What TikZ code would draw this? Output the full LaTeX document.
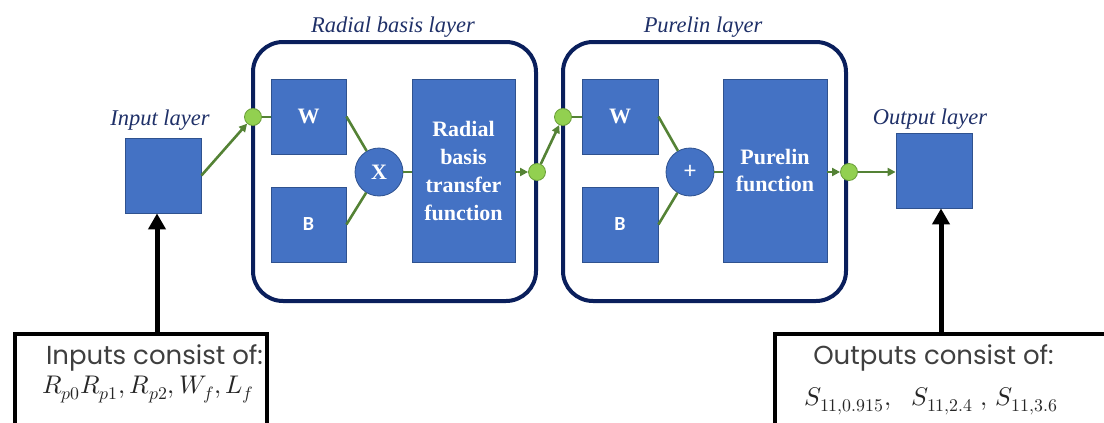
\documentclass[tikz,border=0pt]{standalone}
\usepackage{fontspec}
\usepackage{unicode-math}
\setmainfont{Liberation Serif}
\setmathfont{Latin Modern Math}
\newfontfamily\gothic{Poppins}
\newfontfamily\calib{Carlito}
\usetikzlibrary{arrows.meta}
\definecolor{boxblue}{HTML}{4472C4}
\definecolor{boxedge}{HTML}{2F528F}
\definecolor{navy}{HTML}{0A1F5C}
\definecolor{lblnavy}{HTML}{1F3068}
\definecolor{lnk}{HTML}{548235}
\definecolor{dotfill}{HTML}{92D050}
\definecolor{dotedge}{HTML}{6A9F3A}
\definecolor{txtgray}{HTML}{3F3F3F}
\begin{document}
\begin{tikzpicture}[x=1pt,y=-1pt,
  blk/.style={draw=boxedge, line width=0.8pt, fill=boxblue, text=white, inner sep=0pt,
    font=\bfseries\fontsize{22}{28}\selectfont, align=center},
  opcirc/.style={circle, draw=boxedge, line width=0.8pt, fill=boxblue, text=white,
    inner sep=0pt, minimum size=48pt},
  layerframe/.style={draw=navy, line width=4pt, rounded corners=30pt, inner sep=0pt,
    minimum width=283pt, minimum height=259pt},
  lbl/.style={text=lblnavy, font=\itshape\fontsize{22.5}{26}\selectfont, anchor=base, inner sep=0pt},
  gdot/.style={circle, draw=dotedge, line width=0.8pt, fill=dotfill, inner sep=0pt, minimum size=17pt},
  glink/.style={draw=lnk, line width=2.6pt},
  garrow/.style={glink, -{Triangle[width=8pt,length=8pt]}},
  bigarrow/.style={draw=black, line width=5pt, -{Triangle[width=17pt,length=16pt]}},
  txtbox/.style={draw=black, line width=3.5pt, fill=white, inner sep=0pt, anchor=north west},
  boxtext/.style={text=txtgray, font=\gothic\fontsize{26}{30}\selectfont, anchor=base, inner sep=0pt},
  mathtext/.style={text=black!85, font=\fontsize{25.5}{29}\selectfont, anchor=base, inner sep=0pt}
]
\useasboundingbox (0,0) rectangle (1104,423);
\clip (0,0) rectangle (1104,423);

% layer frames
\node[layerframe] (fr1) at (394.5,171.5) {};
\node[layerframe] (fr2) at (704.5,171.5) {};
\node[lbl] (l1) at (393,32) {Radial basis layer};
\node[lbl] (l2) at (703,32) {Purelin layer};

% input / output
\node[blk, minimum width=76pt, minimum height=75pt] (inbox) at (163,175.5) {};
\node[blk, minimum width=76pt, minimum height=75pt] (outbox) at (934,170.5) {};
\node[lbl] (lin) at (160,125) {Input layer};
\node[lbl] (lout) at (930,124) {Output layer};

% radial basis layer
\node[blk, minimum width=75pt, minimum height=75pt] (W1) at (308.5,116.5) {W};
\node[blk, minimum width=75pt, minimum height=75pt, font=\calib\bfseries\fontsize{20}{24}\selectfont] (B1) at (308.5,224.5) {B};
\node[opcirc, font=\bfseries\fontsize{22}{26}\selectfont] (X1) at (379,172) {X};
\node[blk, minimum width=103pt, minimum height=183pt] (T1) at (463.5,170.5) {Radial\\basis\\transfer\\function};

% purelin layer
\node[blk, minimum width=76pt, minimum height=75pt] (W2) at (620,116.5) {W};
\node[blk, minimum width=76pt, minimum height=75pt, font=\calib\bfseries\fontsize{20}{24}\selectfont] (B2) at (620,224.5) {B};
\node[opcirc, font=\calib\fontsize{24}{26}\selectfont] (P2) at (690,172) {+};
\node[blk, minimum width=104pt, minimum height=183pt] (F2) at (775,170.5) {Purelin\\function};

% dots
\node[gdot] (d1) at (253,117) {};
\node[gdot] (d2) at (537,172) {};
\node[gdot] (d3) at (563,117) {};
\node[gdot] (d4) at (849,172) {};

% green connectors
\draw[garrow] (inbox.east) -- (d1);
\draw[glink] (d1) -- (W1.west |- d1);
\draw[glink] (W1.east) -- (X1);
\draw[glink] (B1.east) -- (X1);
\draw[glink] (X1) -- (T1.west |- X1);
\draw[garrow] (T1.east |- d2) -- (d2);
\draw[garrow] (d2) -- (d3);
\draw[glink] (d3) -- (W2.west |- d3);
\draw[glink] (W2.east) -- (P2);
\draw[glink] (B2.east) -- (P2);
\draw[glink] (P2) -- (F2.west |- P2);
\draw[garrow] (F2.east |- d4) -- (d4);
\draw[garrow] (d4) -- (outbox.west |- d4);

% text boxes
\node[txtbox, minimum width=252pt, minimum height=120pt] (intxt) at (13,332) {};
\node[txtbox, minimum width=340pt, minimum height=120pt] (outtxt) at (773,332) {};
\node[boxtext] (it1) at (154.5,364) {Inputs consist of:};
\node[mathtext] (it2) at (148,393) {$R_{p0}R_{p1}, R_{p2}, W_f, L_f$};
\node[boxtext] (ot1) at (933.5,364) {Outputs consist of:};
\node[mathtext] (ot2) at (931,405) {$S_{11,0.915},\hspace{16pt}S_{11,2.4}\;,\,S_{11,3.6}$};

% black arrows
\coordinate (ia) at (157,332);
\coordinate (oa) at (941,332);
\draw[bigarrow] (ia) -- (inbox.south -| ia);
\draw[bigarrow] (oa) -- (outbox.south -| oa);
\end{tikzpicture}
\end{document}
